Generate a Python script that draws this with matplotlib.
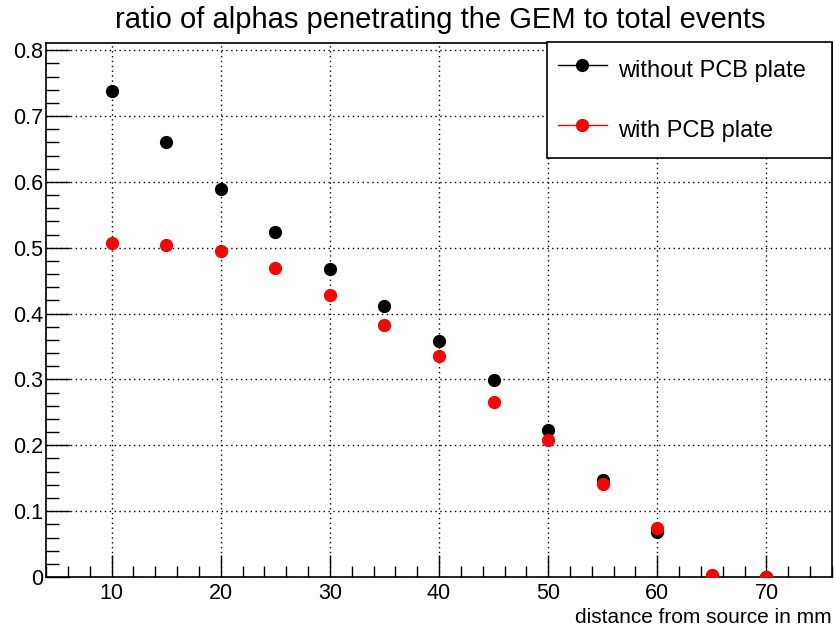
import matplotlib
matplotlib.use("Agg")
import matplotlib.pyplot as plt
from matplotlib.ticker import MultipleLocator

plt.rcParams['font.family'] = ['Liberation Sans', 'DejaVu Sans']

# distance from source (mm)
distance = [10, 15, 20, 25, 30, 35, 40, 45, 50, 55, 60, 65, 70]
without_pcb = [0.738, 0.660, 0.589, 0.524, 0.467, 0.412, 0.358, 0.299, 0.224, 0.147, 0.068, 0.002, 0.0]
with_pcb = [0.508, 0.504, 0.495, 0.469, 0.429, 0.383, 0.335, 0.266, 0.208, 0.141, 0.075, 0.003, 0.0]

fig = plt.figure(figsize=(8.35, 6.32), dpi=100)
ax = fig.add_axes([0.0551, 0.087, 0.9413, 0.845])

ax.plot(distance, without_pcb, 'o', color='black', markersize=8.5, linestyle='none',
        label='without PCB plate', zorder=3)
ax.plot(distance, with_pcb, 'o', color='red', markersize=8.5, linestyle='none',
        label='with PCB plate', zorder=4)

ax.set_xlim(4, 76)
ax.set_ylim(0, 0.811)
ax.xaxis.set_minor_locator(MultipleLocator(2))
ax.yaxis.set_minor_locator(MultipleLocator(0.02))
ax.set_xticks(range(10, 71, 10))
ax.set_xticklabels([str(v) for v in range(10, 71, 10)])
ax.set_yticks([0, 0.1, 0.2, 0.3, 0.4, 0.5, 0.6, 0.7, 0.8])
ax.set_yticklabels(['0', '0.1', '0.2', '0.3', '0.4', '0.5', '0.6', '0.7', '0.8'])

ax.tick_params(axis='both', which='both', direction='in', labelsize=15.5, width=1)
ax.tick_params(axis='y', which='major', length=17, pad=2)
ax.tick_params(axis='y', which='minor', length=9)
ax.tick_params(axis='x', which='major', length=16, pad=4)
ax.tick_params(axis='x', which='minor', length=8)

ax.grid(True, which='major', color='black', linestyle=(0, (1, 2.5)), linewidth=1)
for s in ax.spines.values():
    s.set_linewidth(1.2)

fig.text(0.527, 0.969, 'ratio of alphas penetrating the GEM to total events',
         ha='center', va='center', fontsize=21)
fig.text(0.9964, 0.023, 'distance from source in mm', ha='right', va='center', fontsize=15)

leg = fig.legend(loc='upper left', bbox_to_anchor=(0.655, 0.753, 0.3414, 0.181),
                 mode='expand', fontsize=17,
                 frameon=True, fancybox=False, edgecolor='black', framealpha=1,
                 handlelength=2.08, handleheight=1.9, labelspacing=1.05,
                 borderpad=0.45, borderaxespad=0, handletextpad=0.47)
leg.get_frame().set_linewidth(1.2)
for h in leg.legend_handles:
    h.set_linestyle('-')
    h.set_linewidth(1)

fig.savefig('out.png', dpi=100)
